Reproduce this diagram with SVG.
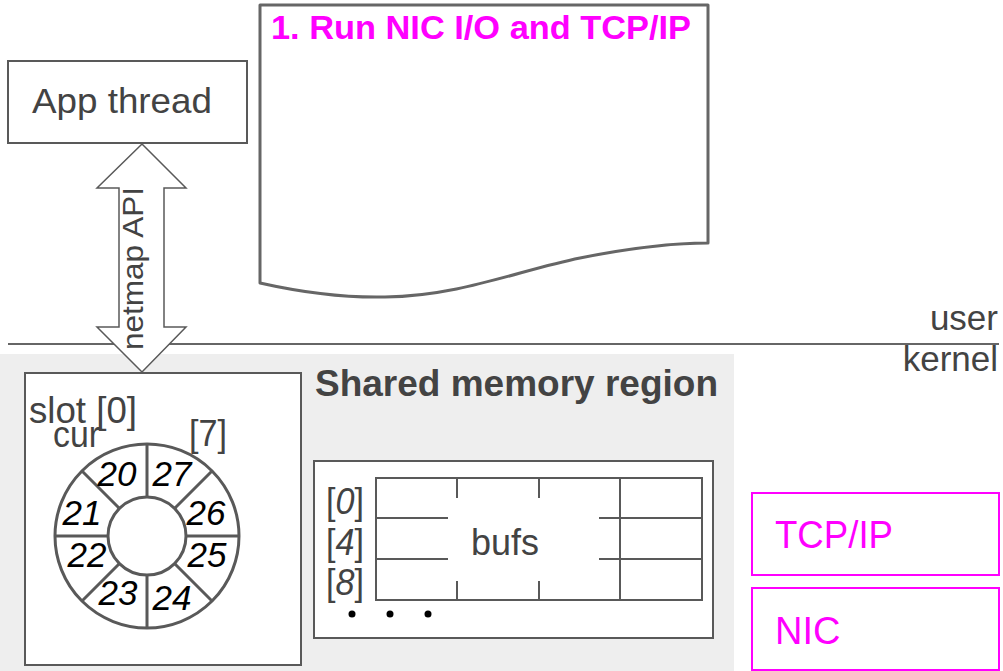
<svg xmlns="http://www.w3.org/2000/svg" width="1003" height="671" viewBox="0 0 1003 671">
<style>
text{font-family:"Liberation Sans",Arial,sans-serif;fill:#434343}
.box{fill:#fff;stroke:#595959;stroke-width:2}
.line{stroke:#595959;stroke-width:2;fill:none}
.ring{stroke:#595959;stroke-width:3;fill:none}
.num{font-style:italic;fill:#000;font-size:35px;text-anchor:middle}
.mag{fill:#fff;stroke:#ff00ff;stroke-width:2}
.magt{fill:#ff00ff;font-size:38px}
.lbl{font-size:36px}
</style>
<rect id="kernel-region" x="0" y="354" width="734" height="317" fill="#eeeeee"/>
<line id="user-kernel-line" x1="8" y1="344" x2="999" y2="344" stroke="#666" stroke-width="2"/>
<text x="998" y="330" font-size="35" text-anchor="end">user</text>
<text x="998" y="371" font-size="35" text-anchor="end">kernel</text>

<g id="doc">
<path d="M260,5 H708 V243 C670,243 630,248 580,258 C520,270 460,296 385,297 C340,298 300,292 260,283 Z" fill="#fff" stroke="#666" stroke-width="3" stroke-linejoin="round"/>
<text x="271" y="39" font-size="34" font-weight="bold" style="fill:#ff00ff" textLength="420" lengthAdjust="spacingAndGlyphs">1. Run NIC I/O and TCP/IP</text>
</g>

<g id="app-thread">
<rect class="box" x="8" y="61" width="239" height="82" stroke-width="1.5"/>
<text x="32" y="113" font-size="35" textLength="180" lengthAdjust="spacingAndGlyphs">App thread</text>
</g>

<g id="connectors">
<path d="M142,144 L186,188 H164 V327 H186 L142,372 L97,327 H119 V188 H97 Z" fill="#fff" stroke="#595959" stroke-width="1.5" stroke-linejoin="miter"/>
<text transform="translate(143,350) rotate(-90)" font-size="30" textLength="163" lengthAdjust="spacingAndGlyphs">netmap API</text>
</g>

<text x="315" y="396" font-size="37" font-weight="bold" textLength="403" lengthAdjust="spacingAndGlyphs">Shared memory region</text>

<g id="ring-box">
<rect class="box" x="25" y="373" width="276" height="292"/>
<text class="lbl" x="29" y="423" textLength="108" lengthAdjust="spacingAndGlyphs">slot [0]</text>
<text class="lbl" x="53" y="447" textLength="47" lengthAdjust="spacingAndGlyphs">cur</text>
<text class="lbl" x="189" y="446" textLength="38" lengthAdjust="spacingAndGlyphs">[7]</text>
<g id="ring">
<circle class="ring" cx="147" cy="536" r="92"/>
<circle class="ring" cx="147" cy="536" r="39"/>
<path class="ring" d="M147,444 V497 M147,575 V628 M55,536 H108 M186,536 H239 M82,471 L119,508 M175,564 L212,601 M212,471 L175,508 M119,564 L82,601"/>
</g>
<text class="num" x="117" y="486">20</text>
<text class="num" x="172" y="486">27</text>
<text class="num" x="82" y="525">21</text>
<text class="num" x="206" y="525">26</text>
<text class="num" x="87" y="567">22</text>
<text class="num" x="207" y="567">25</text>
<text class="num" x="118" y="605">23</text>
<text class="num" x="172" y="610">24</text>
</g>

<g id="bufs">
<rect class="box" x="314" y="461" width="399" height="177"/>
<path class="line" d="M376,478 H702 V600 H376 Z M620,478 V600 M376,518 H448 M599,518 H702 M376,559 H448 M599,559 H702 M457,478 V498 M539,478 V498 M457,581 V600 M539,581 V600"/>
<text x="471" y="555" font-size="36" textLength="68" lengthAdjust="spacingAndGlyphs">bufs</text>
<text class="lbl" x="326" y="514" textLength="38" lengthAdjust="spacingAndGlyphs">[<tspan font-style="italic">0</tspan>]</text>
<text class="lbl" x="326" y="555" textLength="38" lengthAdjust="spacingAndGlyphs">[<tspan font-style="italic">4</tspan>]</text>
<text class="lbl" x="326" y="595" textLength="38" lengthAdjust="spacingAndGlyphs">[<tspan font-style="italic">8</tspan>]</text>
<circle cx="352" cy="614" r="3.5" fill="#000"/>
<circle cx="390" cy="614" r="3.5" fill="#000"/>
<circle cx="428" cy="614" r="3.5" fill="#000"/>
</g>

<g id="tcpip">
<rect class="mag" x="752" y="493" width="247" height="82"/>
<text class="magt" x="775" y="548" textLength="118" lengthAdjust="spacingAndGlyphs">TCP/IP</text>
</g>
<g id="nic">
<rect class="mag" x="752" y="588" width="247" height="82"/>
<text class="magt" x="775" y="644">NIC</text>
</g>
</svg>
